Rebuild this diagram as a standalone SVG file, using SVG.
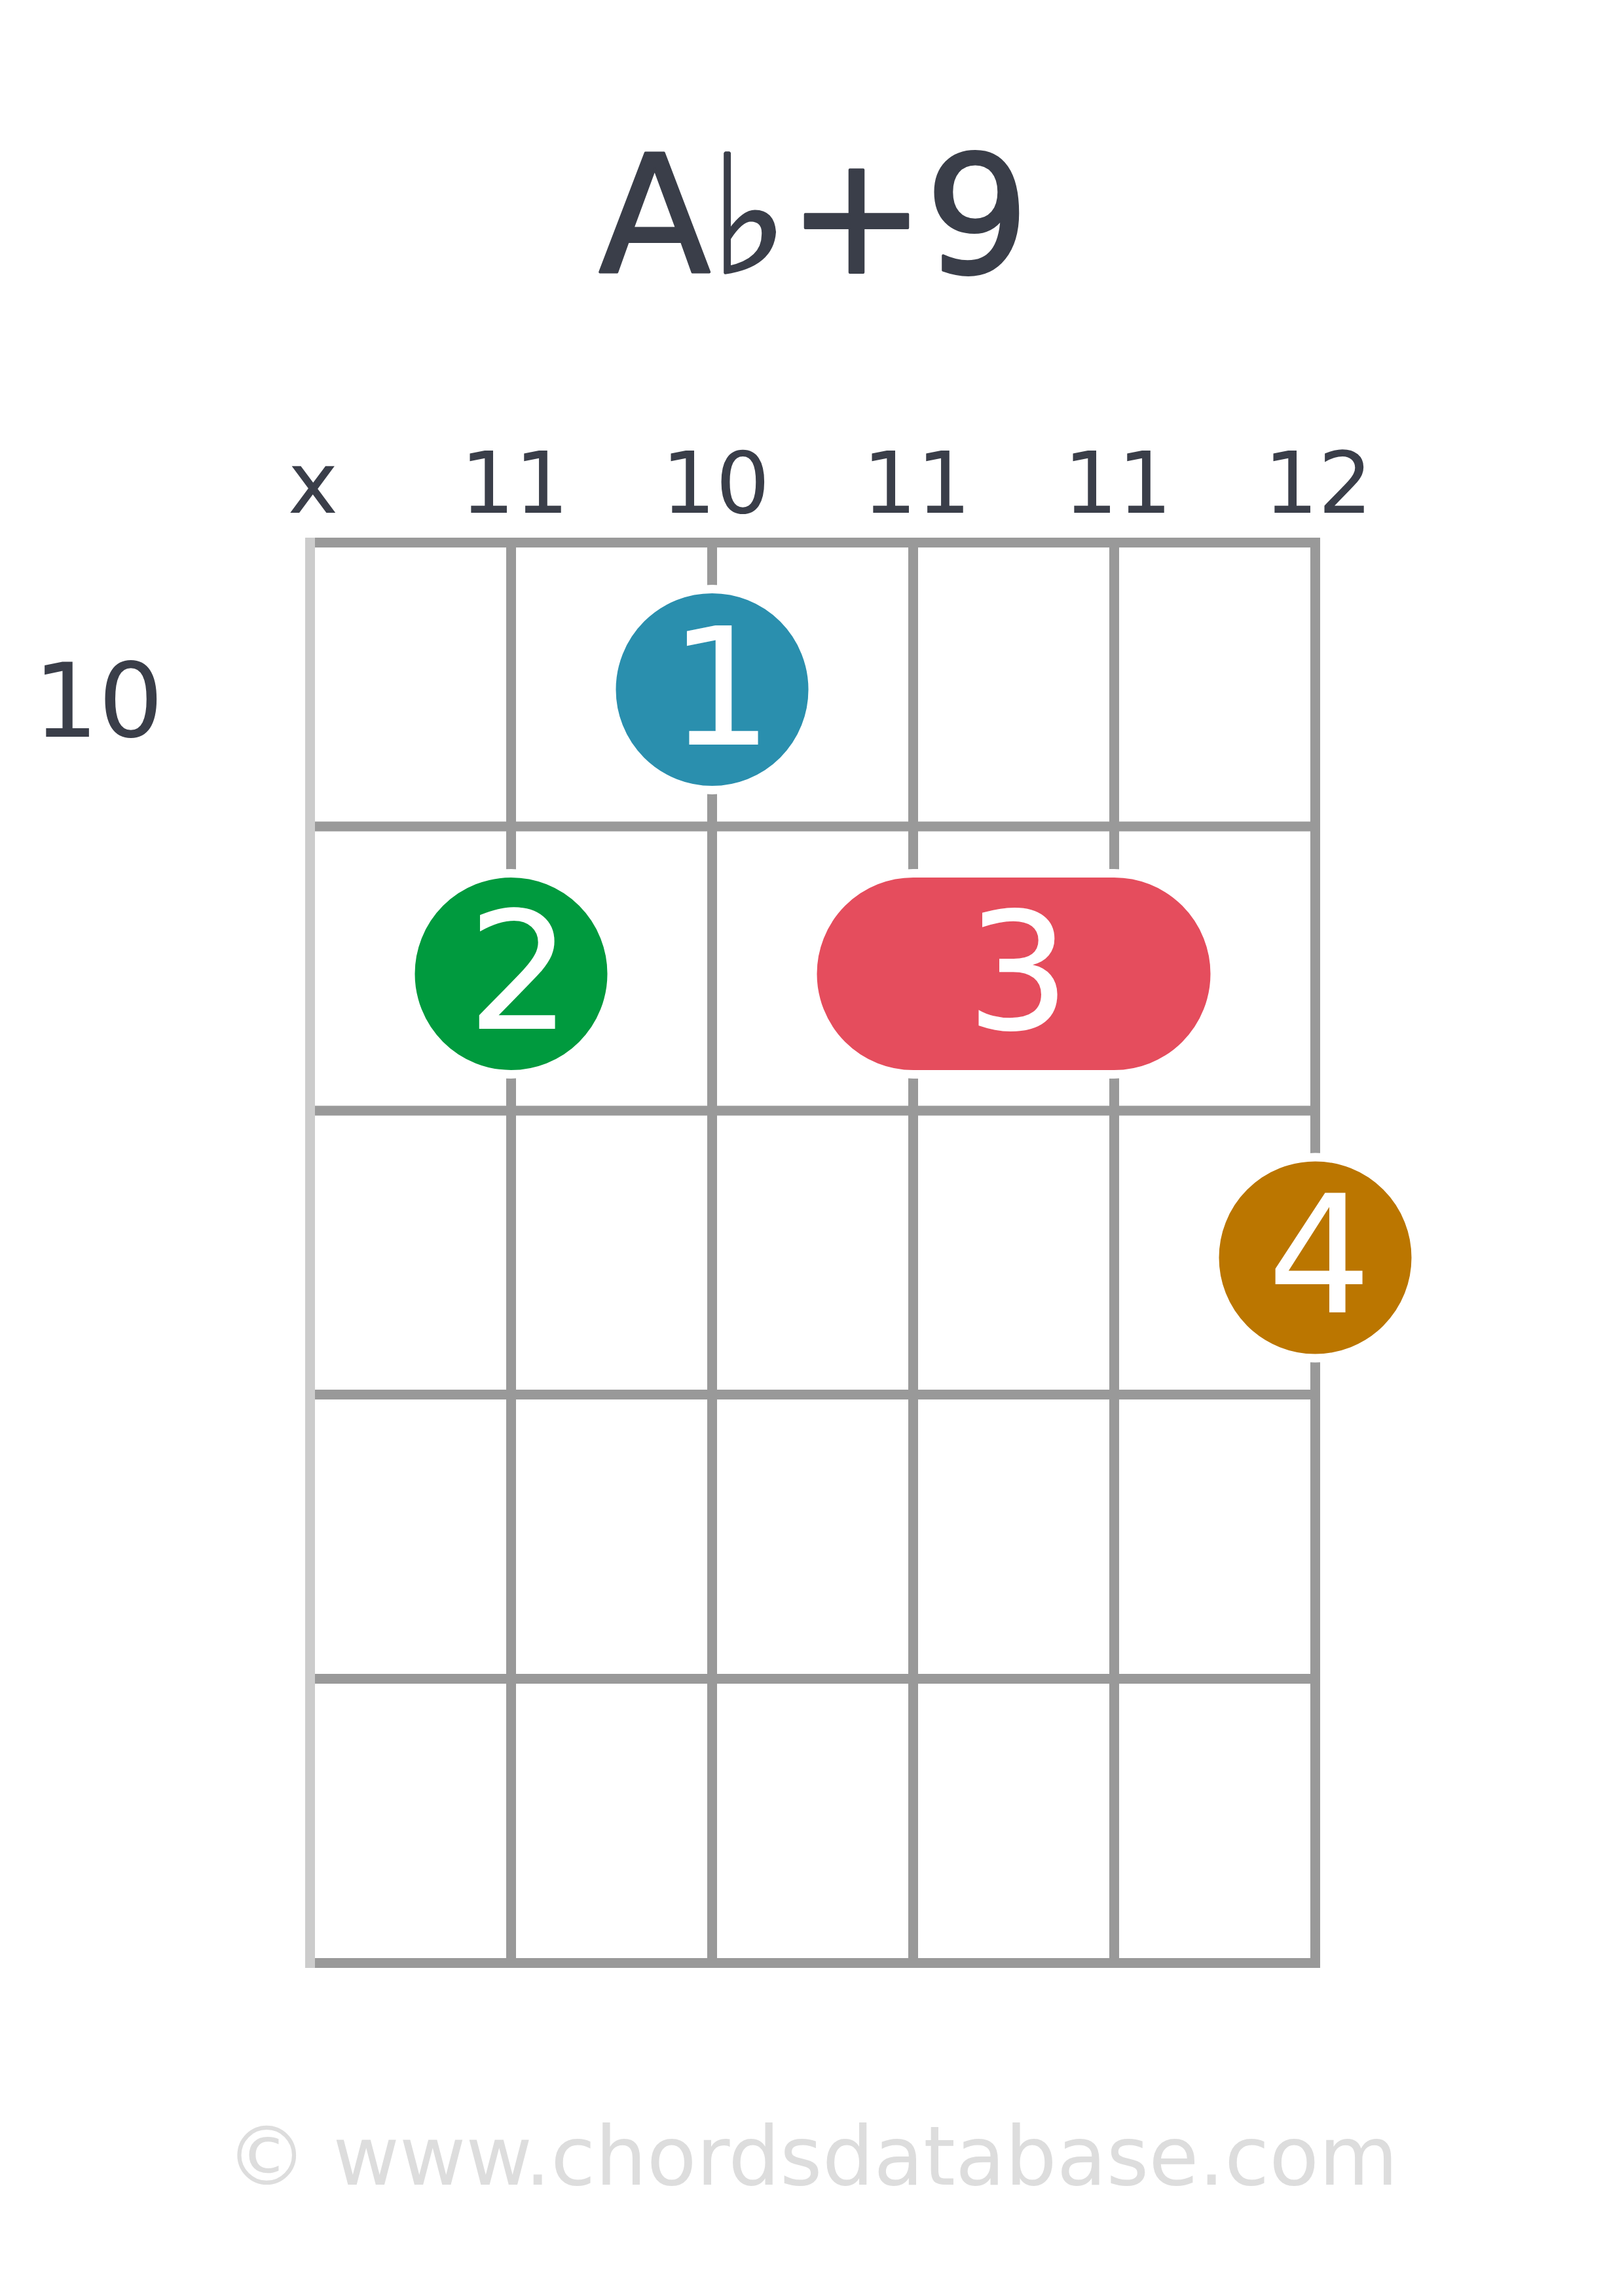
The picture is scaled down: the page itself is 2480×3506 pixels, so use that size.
<svg xmlns="http://www.w3.org/2000/svg" width="2480" height="3506" viewBox="0 0 2480 3506">
<style>
.t{font-family:"DejaVu Sans","Liberation Sans",sans-serif;fill:#3a3e49}
.lbl{font-size:130px;text-anchor:middle}
.fret{stroke:#999999;stroke-width:15;fill:none}
.str{stroke:#999999;stroke-width:15;fill:none}
.dot{stroke:#ffffff;stroke-width:13}
.num{font-family:"DejaVu Sans","Liberation Sans",sans-serif;font-size:250px;fill:#ffffff;text-anchor:middle}
</style>
<rect width="2480" height="3506" fill="#ffffff"/>
<g id="title"><text class="t" x="1243" y="416" font-size="250" text-anchor="middle" stroke="#3a3e49" stroke-width="4" stroke-linejoin="round">A♭+9</text></g>
<g id="labels">
<text class="t lbl" x="478" y="783">x</text>
<text class="t lbl" x="786" y="783">11</text>
<text class="t lbl" x="1093" y="783">10</text>
<text class="t lbl" x="1400" y="783">11</text>
<text class="t lbl" x="1707" y="783">11</text>
<text class="t lbl" x="2013" y="783">12</text>
<text class="t" x="51" y="1125" font-size="156">10</text>
</g>
<g id="grid">
<line class="fret" x1="466" y1="828.5" x2="2016" y2="828.5"/>
<line class="fret" x1="466" y1="1262" x2="2016" y2="1262"/>
<line class="fret" x1="466" y1="1696" x2="2016" y2="1696"/>
<line class="fret" x1="466" y1="2129.5" x2="2016" y2="2129.5"/>
<line class="fret" x1="466" y1="2563.5" x2="2016" y2="2563.5"/>
<line class="fret" x1="466" y1="2997.5" x2="2016" y2="2997.5"/>
<line class="str" x1="780.5" y1="821" x2="780.5" y2="3005"/>
<line class="str" x1="1087.5" y1="821" x2="1087.5" y2="3005"/>
<line class="str" x1="1394.5" y1="821" x2="1394.5" y2="3005"/>
<line class="str" x1="1701.5" y1="821" x2="1701.5" y2="3005"/>
<line class="str" x1="2008.5" y1="821" x2="2008.5" y2="3005"/>
<line x1="473.5" y1="821" x2="473.5" y2="3005" stroke="#cccccc" stroke-width="15"/>
</g>
<g id="dot1"><circle class="dot" cx="1087.5" cy="1053" r="153.5" fill="#2a8fae"/><text class="num" x="1101" y="1137">1</text></g>
<g id="dot2"><circle class="dot" cx="780.5" cy="1487" r="153.5" fill="#009a3e"/><text class="num" x="793" y="1571">2</text></g>
<g id="barre3"><rect class="dot" x="1241" y="1333.5" width="614" height="307" rx="153.5" ry="153.5" fill="#e54d5d"/><text class="num" x="1555" y="1571">3</text></g>
<g id="dot4"><circle class="dot" cx="2008.5" cy="1920.5" r="153.5" fill="#bb7600"/><text class="num" x="2015" y="2004">4</text></g>
<g id="footer"><text x="1240" y="3336" font-size="124" text-anchor="middle" font-family="DejaVu Sans, Liberation Sans, sans-serif" fill="#dddddd">© www.chordsdatabase.com</text></g>
</svg>
